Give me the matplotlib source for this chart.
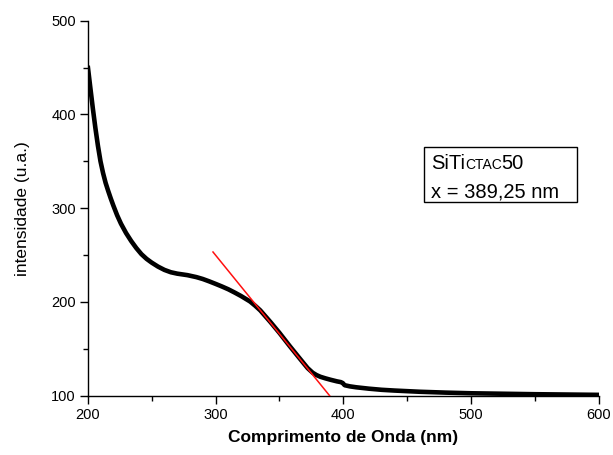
import numpy as np
import matplotlib
matplotlib.use('Agg')
import matplotlib.pyplot as plt
from matplotlib.patches import Rectangle
from matplotlib.ticker import MultipleLocator

# spectrum
wl = [200, 202, 204, 206, 208, 210, 212, 214, 216, 218, 220, 223, 226, 230,
      234, 238, 242, 246, 250, 255, 260, 265, 270, 278, 285, 290, 295, 300, 305, 310,
      315, 320, 327, 331, 335, 343, 350, 358, 366, 372, 376, 379, 382, 386, 390, 395, 398,
      399.5, 401, 405, 410, 420, 430, 440, 460, 480, 500, 550, 600]
intens = [452, 429, 406.5, 385.5, 366.5, 350, 337.5, 327, 318.5, 310.5, 303, 292.5, 283.5, 273.5,
          265, 257.5, 251, 246, 242, 237.7, 234.2, 231.7, 230.2, 228.6, 226.5, 224.5, 222, 219.3,
          216.5, 213.5, 210, 206.3, 200.5, 196, 191, 178.5, 167, 153, 139.5, 129.5, 124.5, 122,
          120.2, 118.5, 117, 115.3, 114.5, 113.5, 111.2, 110, 109, 107.5, 106.3, 105.5, 104.2,
          103.3, 102.6, 101.6, 100.9]

# tangent used for the band gap estimate
x_cross = 389.25
slope = -1.68
tan_x = np.array([298, x_cross])
tan_y = 100 + slope * (tan_x - x_cross)

plt.rcParams.update({'font.family': ['Liberation Sans', 'DejaVu Sans']})

fig = plt.figure(figsize=(6.13, 4.55), dpi=100)
ax = fig.add_axes([0.1431, 0.1303, 0.9772 - 0.1431, 0.9545 - 0.1303])

ax.plot(wl, intens, color='black', lw=3.3, solid_capstyle='butt', solid_joinstyle='round', zorder=3)
ax.plot(tan_x, tan_y, color='#ff1010', lw=1.1, zorder=4)

ax.set_xlim(200, 600)
ax.set_ylim(100, 500)
ax.xaxis.set_major_locator(MultipleLocator(100))
ax.xaxis.set_minor_locator(MultipleLocator(50))
ax.yaxis.set_major_locator(MultipleLocator(100))
ax.yaxis.set_minor_locator(MultipleLocator(50))
ax.tick_params(which='major', direction='out', length=5.5, width=1, labelsize=10.5, pad=3)
ax.tick_params(which='minor', direction='out', length=3.5, width=1)
for s in ('top', 'right'):
    ax.spines[s].set_visible(False)
ax.spines['left'].set_linewidth(1)
ax.spines['bottom'].set_linewidth(1)

ax.set_xlabel('Comprimento de Onda (nm)', fontsize=12.5, fontweight='bold', labelpad=6)
ax.set_ylabel('intensidade (u.a.)', fontsize=12.5, labelpad=15)

# label box with small caps "ctac"
ax.add_patch(Rectangle((463.2, 306.9), 583.1 - 463.2, 365.6 - 306.9,
                       fill=False, edgecolor='black', lw=1, zorder=5))
t1 = ax.text(468.4, 341.5, 'SiTi', fontsize=14.5, va='baseline', ha='left')
fig.canvas.draw()
r = fig.canvas.get_renderer()
inv = ax.transData.inverted()
e = t1.get_window_extent(r)
xr = inv.transform((e.x1, e.y0))[0]
t2 = ax.text(xr, 341.5, 'CTAC', fontsize=10, va='baseline', ha='left')
e = t2.get_window_extent(r)
xr = inv.transform((e.x1, e.y0))[0]
ax.text(xr, 341.5, '50', fontsize=14.5, va='baseline', ha='left')
ax.text(468.4, 311.2, 'x = 389,25 nm', fontsize=14.5, va='baseline', ha='left')

fig.savefig('out.png', dpi=100)
